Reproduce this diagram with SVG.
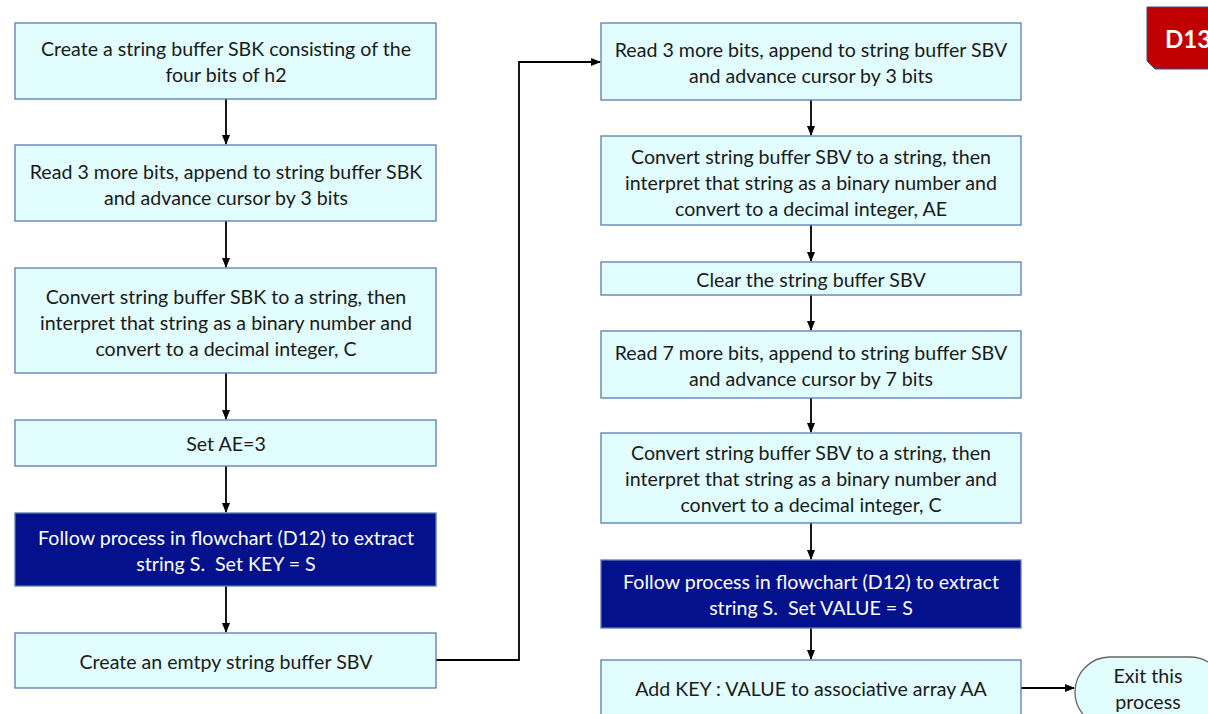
<svg xmlns="http://www.w3.org/2000/svg" width="1208" height="714" viewBox="0 0 1208 714">
<style>
.box{fill:#e2fdfd;stroke:#5a7bb0;stroke-width:1.3}
.dark{fill:#03128c;stroke:#5a7bb0;stroke-width:1.3}
.t{font-family:Lato,"Liberation Sans",sans-serif;font-size:19.6px;fill:#1a1a1a;text-anchor:middle;dominant-baseline:central;white-space:pre}
.w{fill:#ffffff}
.c{fill:none;stroke:#000;stroke-width:1.8}
</style>
<defs>
<marker id="ah" markerWidth="10" markerHeight="8" refX="9" refY="4" orient="auto" markerUnits="userSpaceOnUse">
<path d="M0,0 L10,4 L0,8 Z" fill="#000"/>
</marker>
</defs>
<rect width="1208" height="714" fill="#fff"/>
<g id="connectors">
<line class="c" x1="226" y1="99" x2="226" y2="144" marker-end="url(#ah)"/>
<line class="c" x1="226" y1="221" x2="226" y2="267" marker-end="url(#ah)"/>
<line class="c" x1="226" y1="373" x2="226" y2="419" marker-end="url(#ah)"/>
<line class="c" x1="226" y1="466" x2="226" y2="512" marker-end="url(#ah)"/>
<line class="c" x1="226" y1="586" x2="226" y2="632" marker-end="url(#ah)"/>
<polyline class="c" points="436,660 519,660 519,62 600,62" marker-end="url(#ah)"/>
<line class="c" x1="811" y1="100" x2="811" y2="135" marker-end="url(#ah)"/>
<line class="c" x1="811" y1="225" x2="811" y2="261" marker-end="url(#ah)"/>
<line class="c" x1="811" y1="295" x2="811" y2="330" marker-end="url(#ah)"/>
<line class="c" x1="811" y1="398" x2="811" y2="432" marker-end="url(#ah)"/>
<line class="c" x1="811" y1="523" x2="811" y2="559" marker-end="url(#ah)"/>
<line class="c" x1="811" y1="628" x2="811" y2="659" marker-end="url(#ah)"/>
<line class="c" x1="1021" y1="688" x2="1074" y2="688" marker-end="url(#ah)"/>
</g>
<g id="n1"><rect class="box" x="15" y="23" width="421" height="76"/>
<text class="t" x="226" y="48">Create a string buffer SBK consisting of the</text>
<text class="t" x="226" y="74">four bits of h2</text></g>
<g id="n2"><rect class="box" x="15" y="145" width="421" height="76"/>
<text class="t" x="226" y="171">Read 3 more bits, append to string buffer SBK</text>
<text class="t" x="226" y="197">and advance cursor by 3 bits</text></g>
<g id="n3"><rect class="box" x="15" y="268" width="421" height="105"/>
<text class="t" x="226" y="296">Convert string buffer SBK to a string, then</text>
<text class="t" x="226" y="322">interpret that string as a binary number and</text>
<text class="t" x="226" y="348">convert to a decimal integer, C</text></g>
<g id="n4"><rect class="box" x="15" y="420" width="421" height="46"/>
<text class="t" x="226" y="443">Set AE=3</text></g>
<g id="n5"><rect class="dark" x="15" y="513" width="421" height="73"/>
<text class="t w" x="226" y="537">Follow process in flowchart (D12) to extract</text>
<text class="t w" x="226" y="563" xml:space="preserve">string S.  Set KEY = S</text></g>
<g id="n6"><rect class="box" x="15" y="633" width="421" height="55"/>
<text class="t" x="226" y="661">Create an emtpy string buffer SBV</text></g>
<g id="n7"><rect class="box" x="601" y="23" width="420" height="77"/>
<text class="t" x="811" y="49">Read 3 more bits, append to string buffer SBV</text>
<text class="t" x="811" y="75">and advance cursor by 3 bits</text></g>
<g id="n8"><rect class="box" x="601" y="136" width="420" height="89"/>
<text class="t" x="811" y="156">Convert string buffer SBV to a string, then</text>
<text class="t" x="811" y="182">interpret that string as a binary number and</text>
<text class="t" x="811" y="208">convert to a decimal integer, AE</text></g>
<g id="n9"><rect class="box" x="601" y="262" width="420" height="33"/>
<text class="t" x="811" y="279">Clear the string buffer SBV</text></g>
<g id="n10"><rect class="box" x="601" y="331" width="420" height="67"/>
<text class="t" x="811" y="352">Read 7 more bits, append to string buffer SBV</text>
<text class="t" x="811" y="378">and advance cursor by 7 bits</text></g>
<g id="n11"><rect class="box" x="601" y="433" width="420" height="90"/>
<text class="t" x="811" y="452">Convert string buffer SBV to a string, then</text>
<text class="t" x="811" y="478">interpret that string as a binary number and</text>
<text class="t" x="811" y="504">convert to a decimal integer, C</text></g>
<g id="n12"><rect class="dark" x="601" y="560" width="420" height="68"/>
<text class="t w" x="811" y="581">Follow process in flowchart (D12) to extract</text>
<text class="t w" x="811" y="607" xml:space="preserve">string S.  Set VALUE = S</text></g>
<g id="n13"><rect class="box" x="601" y="660" width="420" height="60"/>
<text class="t" x="811" y="688">Add KEY : VALUE to associative array AA</text></g>
<g id="exit"><rect class="box" x="1075" y="657" width="150" height="70" rx="35" ry="35" style="stroke:#666"/>
<text class="t" x="1148" y="675">Exit this</text>
<text class="t" x="1148" y="701">process</text></g>
<g id="badge"><path d="M1147,7 L1215,7 L1215,69 L1155,69 L1147,61 Z" fill="#c00000" stroke="#2f4f8f" stroke-width="1"/>
<text x="1165" y="38" font-family="Lato,'Liberation Sans',sans-serif" font-size="24" font-weight="bold" fill="#fff" dominant-baseline="central">D13</text></g>
</svg>
